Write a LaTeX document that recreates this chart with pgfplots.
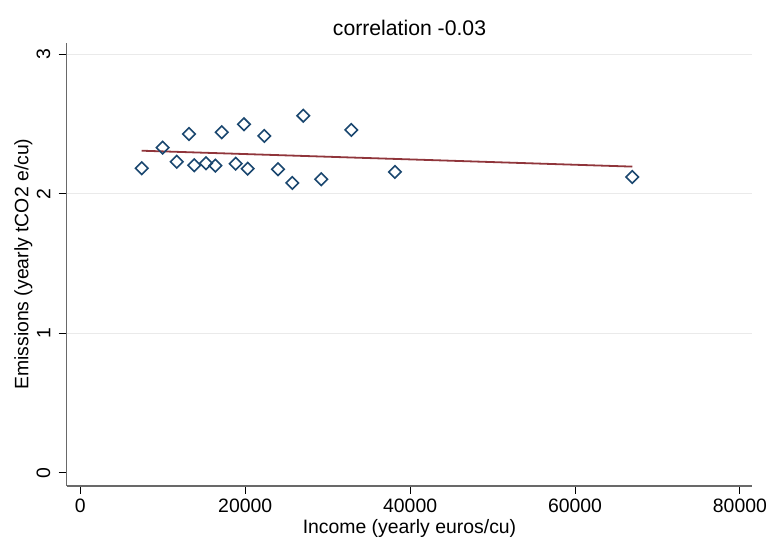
\documentclass[border=0pt]{standalone}
\usepackage{fontspec}
\setmainfont{Liberation Sans}
\usepackage{pgfplots}
\pgfplotsset{compat=1.18}
\definecolor{stnavy}{RGB}{26,71,111}
\definecolor{stmaroon}{RGB}{144,53,59}
\definecolor{axgray}{RGB}{105,105,105}
\definecolor{gridgray}{RGB}{234,234,234}
\begin{document}
\begin{tikzpicture}
\path[use as bounding box] (-33.35pt,-26.15pt) rectangle (352.15pt,242.85pt);
\begin{axis}[
  at={(0pt,0pt)}, anchor=south west,
  scale only axis, width=342.8pt, height=221.5pt,
  xmin=-1650, xmax=81500, ymin=-0.093, ymax=3.082,
  axis x line*=bottom, axis y line*=left,
  axis line style={axgray, line width=0.8pt, -},
  xtick={0,20000,40000,60000,80000}, ytick={0,1,2,3},
  scaled x ticks=false,
  /pgf/number format/.cd, set thousands separator={}, assume math mode=true, /pgfplots/.cd,
  tick align=outside, major tick length=4pt,
  tick style={black, line width=0.45pt},
  ticklabel style={font=\fontsize{9.7}{11}\selectfont},
  xticklabel style={anchor=north, inner sep=0pt, yshift=-2.3pt},
  yticklabel style={xshift=-4.0pt, rotate=90, anchor=south, inner sep=0pt},
  grid=none,
  every axis title/.style={at={(rel axis cs:0.5,1)}, anchor=base, yshift=3.85pt, font=\fontsize{10.6}{12}\selectfont},
  every axis x label/.style={at={(rel axis cs:0.5,0)}, anchor=base, yshift=-23.65pt, font=\fontsize{9.7}{11}\selectfont},
  every axis y label/.style={at={(rel axis cs:0,0.5)}, xshift=-19.1pt, rotate=90, anchor=base, font=\fontsize{9.7}{11}\selectfont},
  title={correlation -0.03},
  xlabel={Income (yearly euros/cu)},
  ylabel={Emissions (yearly tCO2 e/cu)},
  clip=false,
]
% grid lines at y = 1, 2, 3
\addplot[gridgray, line width=0.6pt, forget plot] coordinates {(-1650,1) (81500,1)};
\addplot[gridgray, line width=0.6pt, forget plot] coordinates {(-1650,2) (81500,2)};
\addplot[gridgray, line width=0.6pt, forget plot] coordinates {(-1650,3) (81500,3)};
% fitted line
\addplot[stmaroon, line width=0.9pt] coordinates {(7446,2.308) (66942,2.194)};
% data
\addplot[only marks, mark=square, mark size=2.2pt, mark options={stnavy, line width=0.8pt, rotate=45, fill=none}] coordinates {
(7446,2.182)
(9993,2.330)
(11691,2.229)
(13182,2.428)
(13825,2.204)
(15244,2.218)
(16372,2.201)
(17148,2.440)
(18846,2.215)
(19852,2.497)
(20301,2.179)
(22314,2.414)
(23976,2.175)
(25710,2.077)
(27043,2.559)
(29226,2.103)
(32864,2.457)
(38164,2.156)
(66942,2.120)
};
\end{axis}
\end{tikzpicture}
\end{document}
